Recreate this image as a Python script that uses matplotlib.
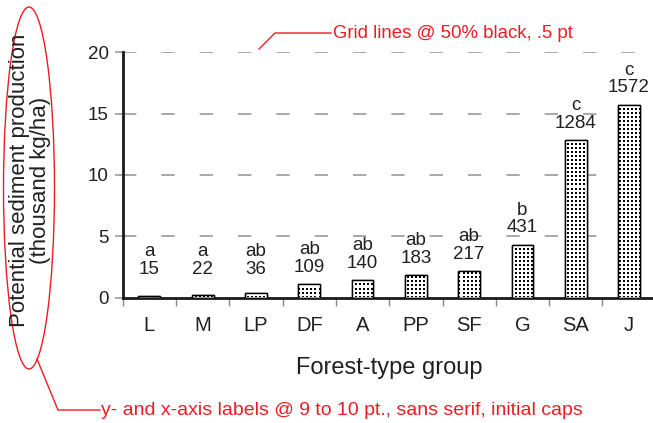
import numpy as np
import matplotlib.pyplot as plt
from matplotlib.patches import Ellipse
from matplotlib.lines import Line2D

plt.rcParams['font.family'] = ['Liberation Sans', 'DejaVu Sans']

groups = ["L", "M", "LP", "DF", "A", "PP", "SF", "G", "SA", "J"]
sediment = [15, 22, 36, 109, 140, 183, 217, 431, 1284, 1572]
letters = ["a", "a", "ab", "ab", "ab", "ab", "ab", "b", "c", "c"]
yticks = [0, 5, 10, 15, 20]

TXT = '#231f20'
RED = '#ed1c24'

fig = plt.figure(figsize=(6.53, 4.23), dpi=100)
ax = fig.add_axes([122.7/653, 125.5/423, 533/653, 245.2/423])
ax.set_xlim(-0.5, 9.5)
ax.set_ylim(0, 20)

x = list(range(len(groups)))
heights = [v / 100 for v in sediment]
bars = ax.bar(x, heights, width=0.41, color='white', edgecolor='black',
              linewidth=1.0, zorder=3)

# dotted fill: small black squares on white, clipped to each bar
ny, nx = 245, 533
rr, cc = np.mgrid[0:ny, 0:nx]
dots = ((rr % 4 < 2) & (cc % 4 < 2)).astype(float)
for b in bars:
    im = ax.imshow(dots, cmap='gray_r', vmin=0, vmax=1, extent=(-0.5, 9.5, 0, 20),
                   aspect='auto', interpolation='nearest', zorder=3.5)
    im.set_clip_path(b)
for b in bars:
    ax.add_patch(plt.Rectangle(b.get_xy(), b.get_width(), b.get_height(),
                               fill=False, edgecolor='black', lw=1.0, zorder=4))

for xi, h, v, let in zip(x, heights, sediment, letters):
    ax.annotate(f"{let}\n{v}", (xi, max(h, 0.9)), xytext=(0, 6),
                textcoords='offset points', ha='center', va='bottom',
                fontsize=13.5, color=TXT, linespacing=1.05)

ax.set_yticks(yticks)
ax.set_yticklabels([str(t) for t in yticks], fontsize=13.5, color=TXT)
for t in yticks[1:]:
    ax.axhline(t, color='#999999', lw=1.2, dashes=(8, 15), zorder=1)

ax.set_xticks([i - 0.5 for i in x])
ax.set_xticklabels([])
ax.set_xticks(x, minor=True)
ax.set_xticklabels(groups, minor=True, fontsize=14.5, color=TXT)
ax.tick_params(axis='x', which='major', direction='out', length=6,
               width=1, color='#888888')
ax.tick_params(axis='x', which='minor', length=0, pad=13)
ax.tick_params(axis='y', direction='out', length=6, width=1.2,
               color='#999999', pad=4)

for s in ['top', 'right']:
    ax.spines[s].set_visible(False)
for s in ['left', 'bottom']:
    ax.spines[s].set_linewidth(2)
    ax.spines[s].set_color('#1a1a1a')

ax.set_xlabel("Forest-type group", fontsize=17, color=TXT, labelpad=16)
fig.text(30/653, 1 - 180/423, "Potential sediment production\n(thousand kg/ha)",
         rotation=90, ha='center', va='center', multialignment='center',
         fontsize=16, color=TXT, linespacing=1.0)

# red annotations
fig.patches.append(Ellipse((29/653, 1 - 188/423), 51/653, 362/423,
                           transform=fig.transFigure, fill=False,
                           edgecolor=RED, lw=1))
fig.lines.append(Line2D([37/653, 58/653, 100/653],
                        [1 - 359/423, 1 - 410/423, 1 - 410/423],
                        transform=fig.transFigure, color=RED, lw=1))
fig.text(101/653, 1 - 410/423,
         "y- and x-axis labels @ 9 to 10 pt., sans serif, initial caps",
         ha='left', va='center', fontsize=14, color=RED)
fig.lines.append(Line2D([259/653, 275/653, 331/653],
                        [1 - 49/423, 1 - 33/423, 1 - 33/423],
                        transform=fig.transFigure, color=RED, lw=1))
fig.text(333/653, 1 - 33/423, "Grid lines @ 50% black, .5 pt",
         ha='left', va='center', fontsize=13.4, color=RED)

fig.savefig('out.png', dpi=100, facecolor='white')
